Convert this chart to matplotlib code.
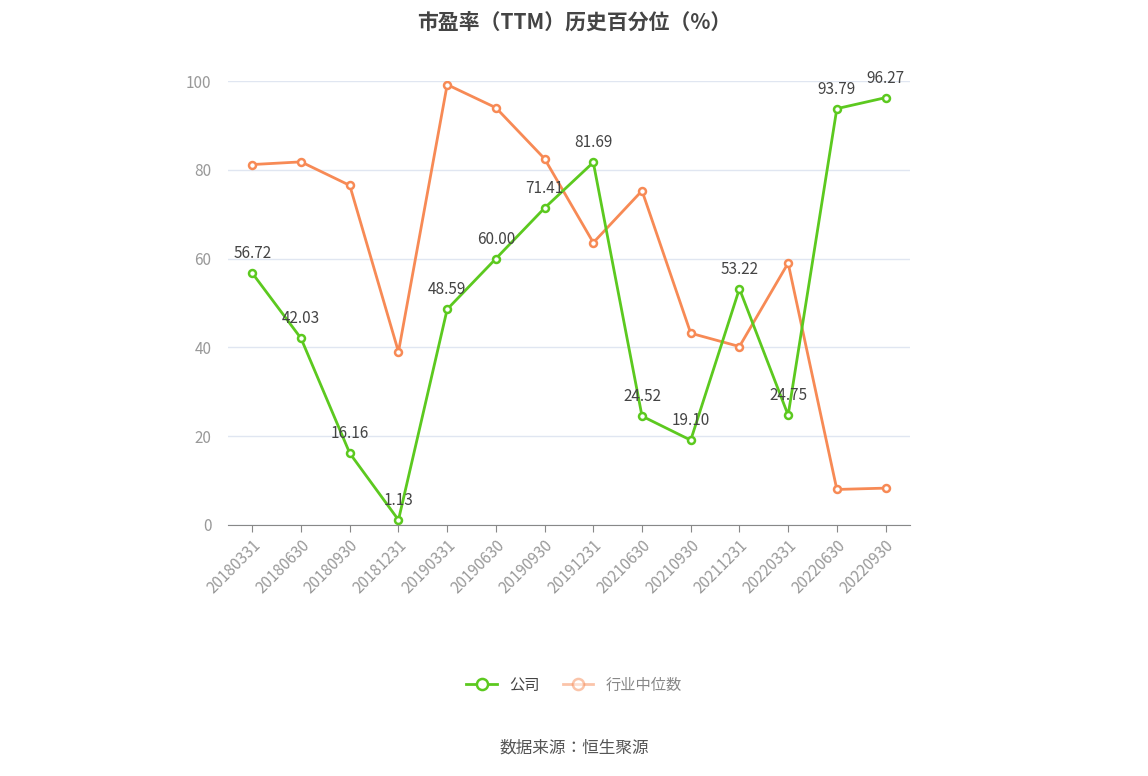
import matplotlib.pyplot as plt

plt.rcParams['font.family'] = 'sans-serif'
plt.rcParams['font.sans-serif'] = ['Noto Sans CJK SC', 'Noto Sans CJK JP', 'Noto Sans CJK TC',
                                   'Noto Sans CJK KR', 'DejaVu Sans']

dates = ['20180331', '20180630', '20180930', '20181231', '20190331', '20190630', '20190930',
         '20191231', '20210630', '20210930', '20211231', '20220331', '20220630', '20220930']
company = [56.72, 42.03, 16.16, 1.13, 48.59, 60.00, 71.41, 81.69, 24.52, 19.10, 53.22, 24.75, 93.79, 96.27]
industry = [81.2, 81.8, 76.5, 39.0, 99.2, 94.0, 82.5, 63.6, 75.3, 43.2, 40.2, 59.0, 8.0, 8.3]

green = '#5cc91f'
orange = '#f78a55'

fig = plt.figure(figsize=(11.48, 7.76), dpi=100)
ax = fig.add_axes([0.1986, 0.3235, 0.594, 0.572])
x = range(len(dates))

ax.plot(x, industry, color=orange, lw=2, marker='o', ms=5, mfc='white', mec=orange, mew=1.8,
        label='行业中位数', zorder=3)
ax.plot(x, company, color=green, lw=2, marker='o', ms=5, mfc='white', mec=green, mew=1.8,
        label='公司', zorder=4)
for i, v in enumerate(company):
    ax.annotate(f'{v:.2f}', (i, v), textcoords='offset points', xytext=(0, 8),
                ha='center', va='bottom', fontsize=11, color='#444444', zorder=5)

ax.set_xlim(-0.5, len(dates) - 0.5)
ax.set_ylim(0, 100)
ax.set_yticks(range(0, 101, 20))
ax.set_xticks(list(x))
ax.set_xticklabels(dates, rotation=45, ha='right', rotation_mode='anchor')
ax.tick_params(axis='y', length=0, labelsize=11, labelcolor='#999999', pad=12)
ax.tick_params(axis='x', labelsize=11, labelcolor='#999999', color='#888888', length=5)
ax.grid(axis='y', color='#e0e6f1', lw=1)
ax.set_axisbelow(True)
for s in ['top', 'right', 'left']:
    ax.spines[s].set_visible(False)
ax.spines['bottom'].set_color('#888888')

fig.suptitle('市盈率（TTM）历史百分位（%）', y=0.985, fontsize=15, fontweight='bold', color='#444444')
h, l = ax.get_legend_handles_labels()
leg = fig.legend(h[::-1], l[::-1], loc='center', bbox_to_anchor=(0.5, 0.117), ncol=2, frameon=False,
                 fontsize=11, handlelength=2, markerscale=1.6, columnspacing=1.5)
leg.legend_handles[1].set_alpha(0.5)
leg.get_texts()[0].set_color('#444444')
leg.get_texts()[1].set_color('#888888')
fig.text(0.5, 0.036, '数据来源：恒生聚源', ha='center', va='center', fontsize=12, color='#555555')

fig.savefig('out.png', dpi=100)
